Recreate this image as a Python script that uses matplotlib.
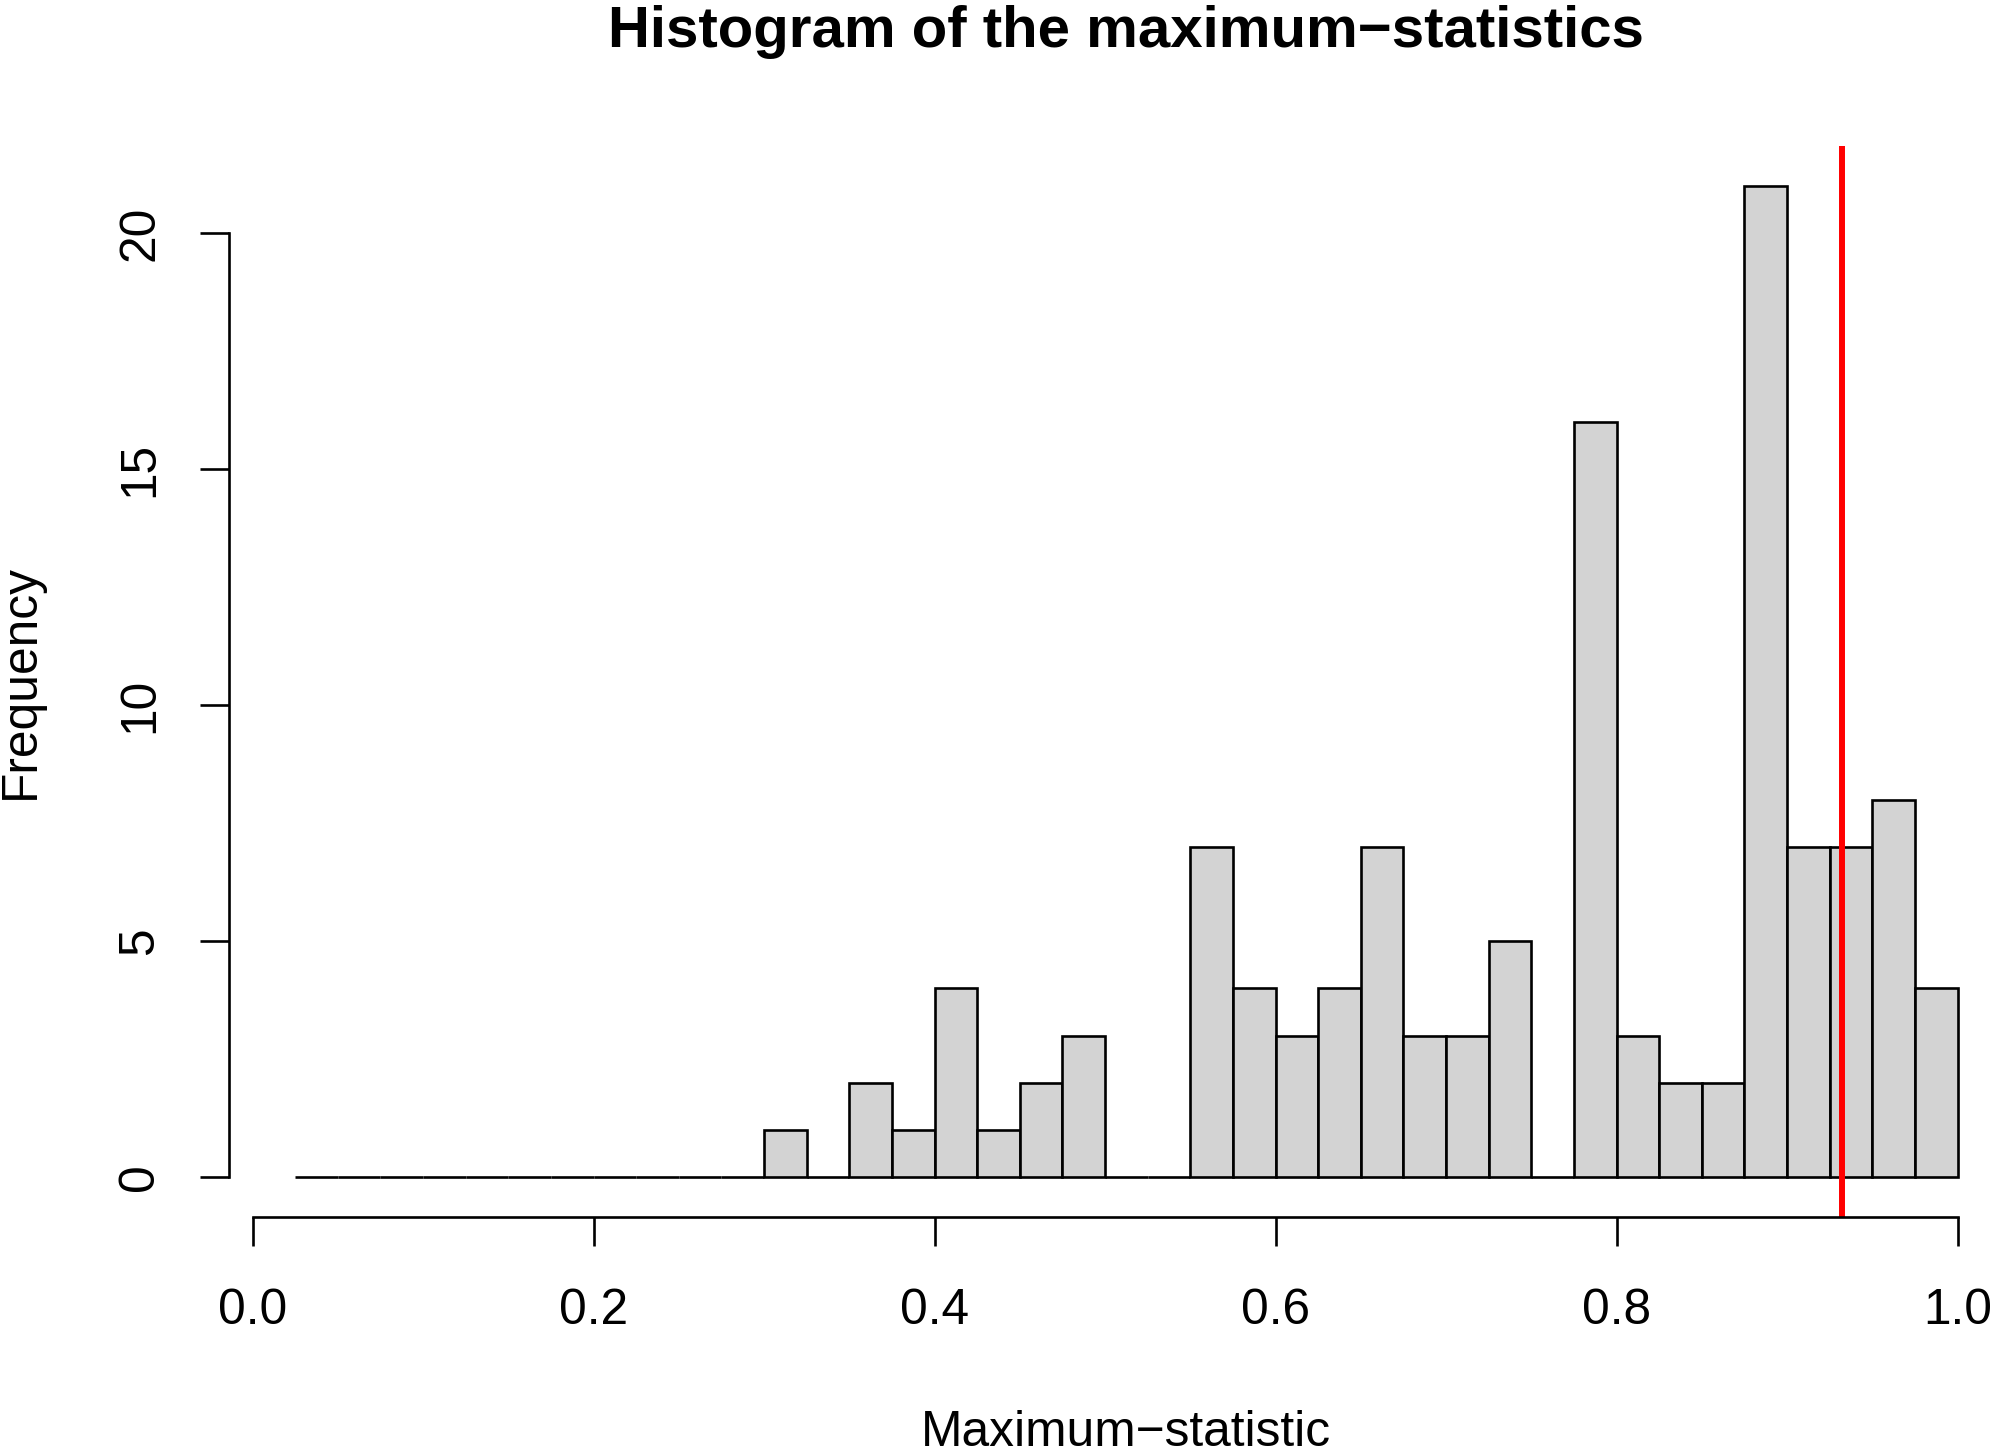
import numpy as np
import matplotlib
matplotlib.use("Agg")
import matplotlib.pyplot as plt

# histogram of maximum statistics, bins of width 0.025 from 0.025 to 1.0
bin_edges = np.round(np.arange(0.025, 1.0001, 0.025), 3)
counts = [0, 0, 0, 0, 0, 0, 0, 0, 0, 0, 0,   # 0.025 - 0.300
          1, 0, 2, 1, 4, 1, 2, 3,              # 0.300 - 0.500
          0, 0, 7, 4, 3, 4, 7, 3, 3, 5,        # 0.500 - 0.750
          0, 16, 3, 2, 2, 21, 7, 7, 8, 4]      # 0.750 - 1.000
observed = 0.932

xticks = [0.0, 0.2, 0.4, 0.6, 0.8, 1.0]
xticklabels = ["0.0", "0.2", "0.4", "0.6", "0.8", "1.0"]
yticks = [0, 5, 10, 15, 20]

plt.rcParams['font.family'] = ['Liberation Sans', 'DejaVu Sans']

W, H = 1992, 1448
fig = plt.figure(figsize=(W / 100, H / 100), dpi=100)
# plot region in pixels (R style), right side runs past the image edge
left_px, right_px, top_px, bottom_px = 228.7, 2024, 146, 1217
ax = fig.add_axes([left_px / W, 1 - bottom_px / H,
                   (right_px - left_px) / W, (bottom_px - top_px) / H])

lefts = bin_edges[:-1]
width = bin_edges[1] - bin_edges[0]
ax.bar(lefts, counts, width=width, align='edge', color='#D3D3D3',
       edgecolor='black', linewidth=1.9)
ax.axvline(observed, color='#FF0000', linewidth=4.3)

# R adds 4% on each side
xr = bin_edges[-1] - bin_edges[0]
ax.set_xlim(bin_edges[0] - 0.04 * xr, bin_edges[-1] + 0.04 * xr)
yr = max(counts)
ax.set_ylim(-0.04 * yr, yr * 1.04)

for s in ['top', 'right']:
    ax.spines[s].set_visible(False)
ax.spines['left'].set_bounds(0, 20)
ax.spines['bottom'].set_bounds(0, 1)
ax.spines['left'].set_linewidth(1.9)
ax.spines['bottom'].set_linewidth(1.9)

ax.set_xticks(xticks)
ax.set_xticklabels(xticklabels)
ax.set_yticks(yticks)
ax.set_yticklabels([str(v) for v in yticks], rotation=90, va='center')
ax.tick_params(axis='both', length=21, width=1.9, labelsize=35.7, pad=30)
ax.tick_params(axis='y', pad=26)

ax.set_xlabel("Maximum\u2212statistic", fontsize=35.7)
ax.xaxis.set_label_coords(0.5, -0.180)
ax.set_ylabel("Frequency", fontsize=35.7)
ax.yaxis.set_label_coords(-0.103, 0.5)
ax.text(0.5, 1.092, "Histogram of the maximum\u2212statistics", transform=ax.transAxes,
        ha='center', va='baseline', fontsize=41.9, fontweight='bold')

fig.savefig("out.png", dpi=100)
